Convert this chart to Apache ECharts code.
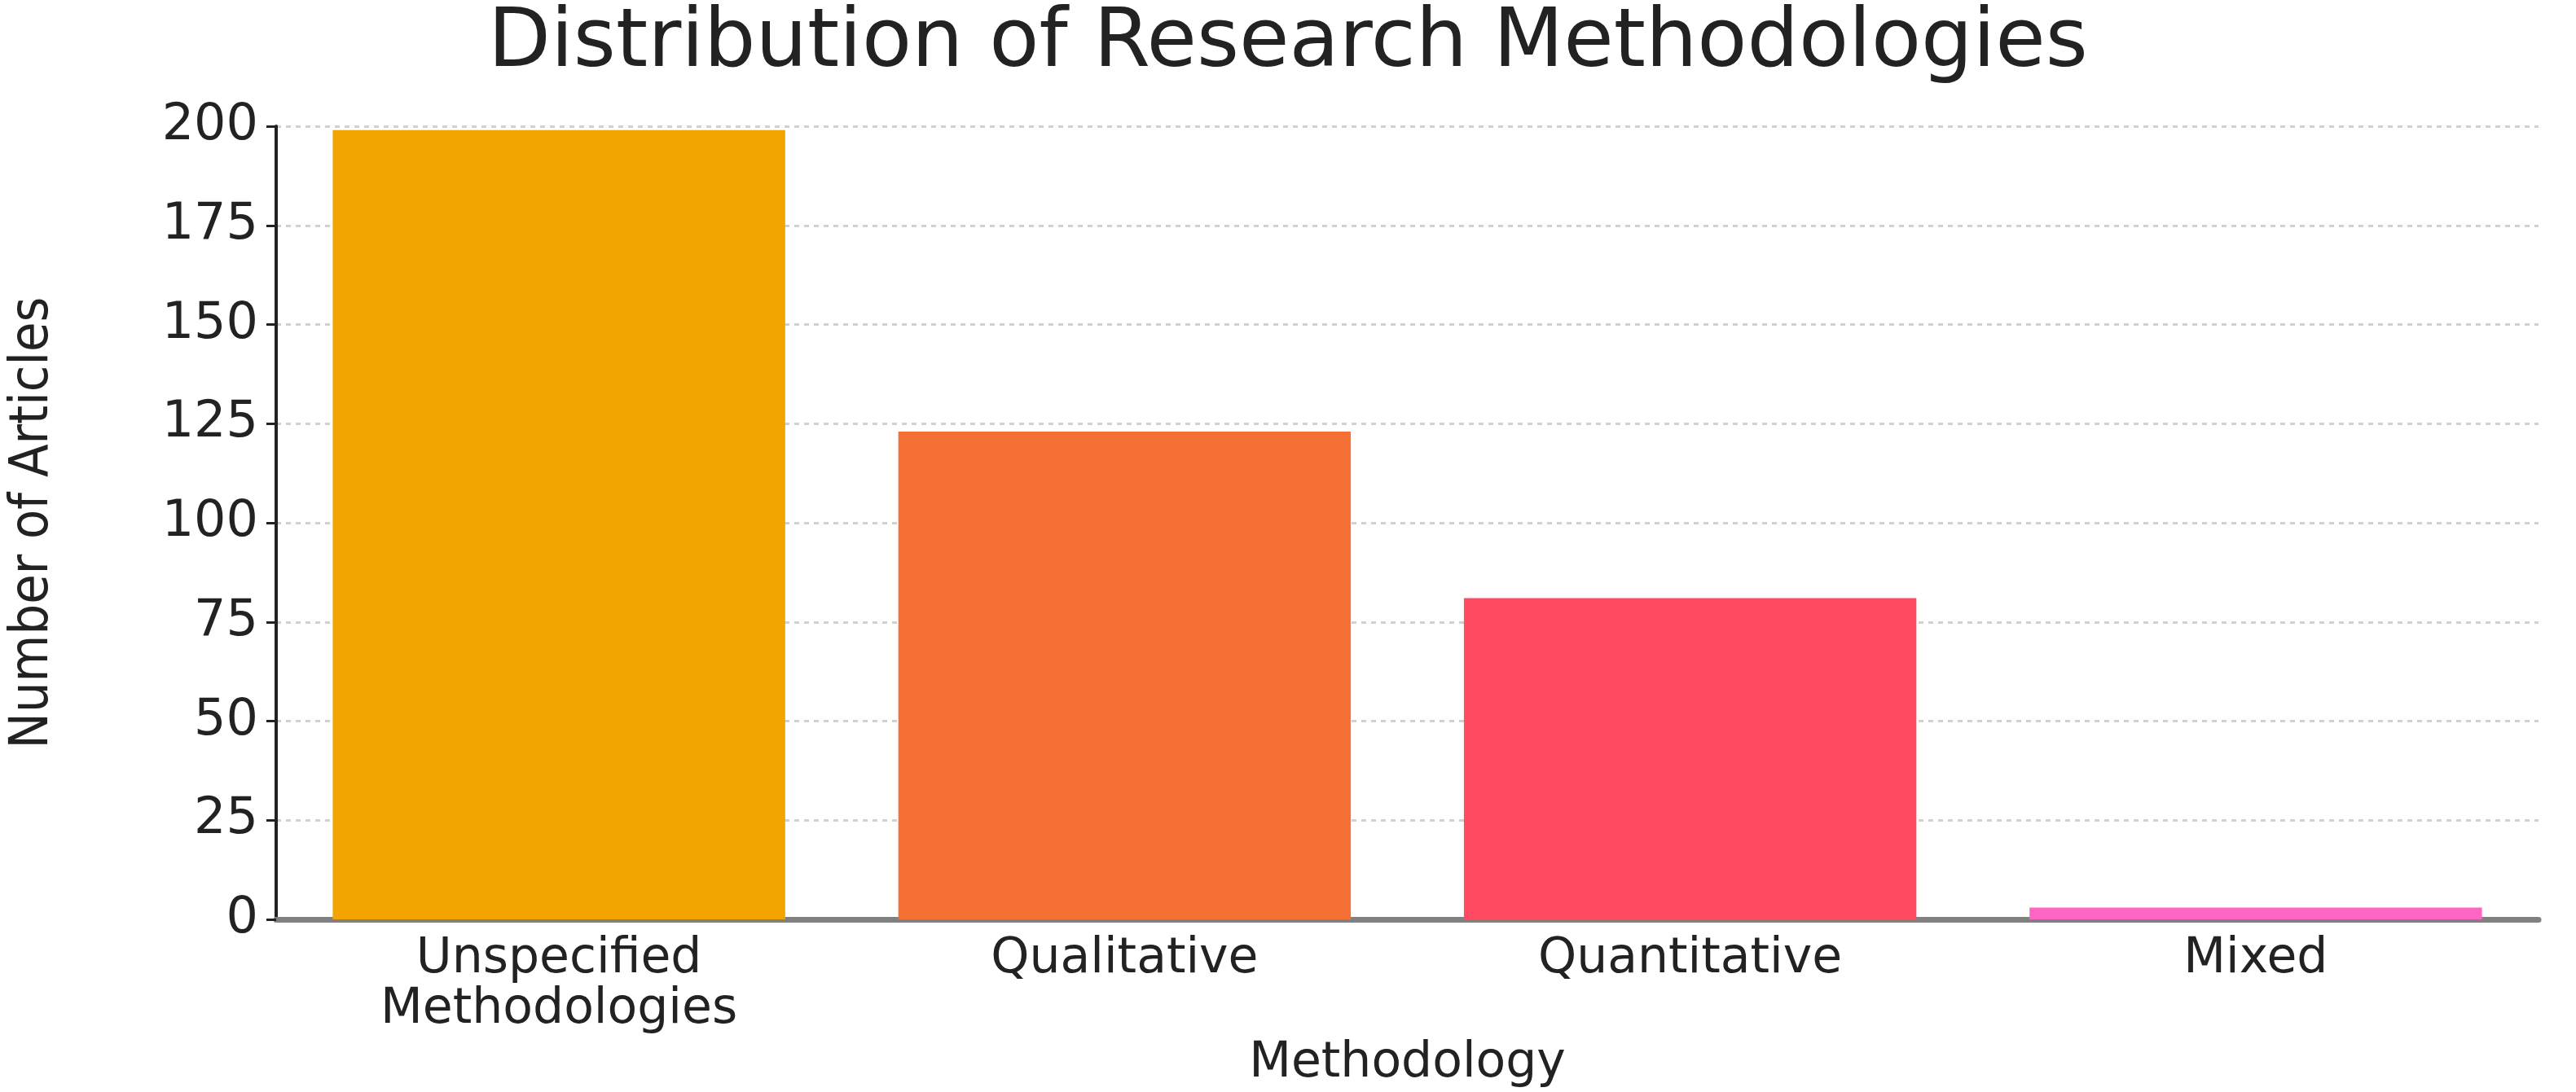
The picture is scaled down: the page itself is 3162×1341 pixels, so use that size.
<!DOCTYPE html>
<html><head><meta charset="utf-8">
<script src="https://cdn.jsdelivr.net/npm/echarts@6/dist/echarts.min.js"></script>
<style>html,body{margin:0;padding:0;background:#fff}#c{width:3162px;height:1341px}</style>
</head><body><div id="c"></div>
<script>
const categories = ['Unspecified\nMethodologies', 'Qualitative', 'Quantitative', 'Mixed'];
const values = [199, 123, 81, 3];
const colors = ['#F2A500', '#F57035', '#FF4A62', '#FF66C4'];
const yTicks = [0, 25, 50, 75, 100, 125, 150, 175, 200];

const chart = echarts.init(document.getElementById('c'));
chart.setOption({
  animation: false,
  title: { text: 'Distribution of Research Methodologies', left: 'center', top: 0,
    textStyle: { fontFamily: 'DejaVu Sans', fontWeight: 'normal', fontSize: 100, color: '#222' } },
  grid: { left: 339, right: 46, top: 155, bottom: 191 },
  xAxis: {
    type: 'category', data: categories,
    name: 'Methodology', nameLocation: 'middle', nameGap: 110,
    nameTextStyle: { fontFamily: 'DejaVu Sans', fontSize: 60, color: '#222' },
    axisLine: { lineStyle: { color: '#808080', width: 7 } },
    axisTick: { alignWithLabel: true, inside: true, length: 14, lineStyle: { color: '#333', width: 4 } },
    axisLabel: { fontFamily: 'DejaVu Sans', fontSize: 60, color: '#222', margin: 18, lineHeight: 62 }
  },
  yAxis: {
    type: 'value', min: 0, max: 200, interval: 25,
    name: 'Number of Articles', nameLocation: 'middle', nameGap: 265,
    nameTextStyle: { fontFamily: 'DejaVu Sans Condensed', fontSize: 66, color: '#222' },
    axisLine: { show: true, lineStyle: { color: '#222', width: 4 } },
    axisTick: { show: true, length: 12, lineStyle: { color: '#222', width: 3 } },
    axisLabel: { fontFamily: 'DejaVu Sans', fontSize: 62, color: '#222', margin: 22 },
    splitLine: { lineStyle: { color: '#d0d0d0', type: [6, 6], width: 3 } }
  },
  series: [{
    type: 'bar', barWidth: '80%',
    data: values.map((v, i) => ({ value: v, itemStyle: { color: colors[i] } }))
  }]
});
</script></body></html>
